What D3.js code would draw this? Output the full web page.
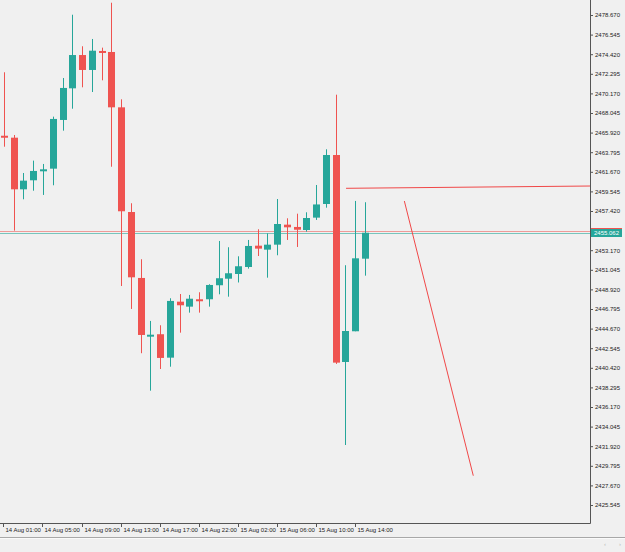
<!DOCTYPE html>
<html><head><meta charset="utf-8">
<script src="https://cdn.jsdelivr.net/npm/d3@7"></script>
<style>html,body{margin:0;padding:0;background:#f0f0f0;overflow:hidden}</style>
</head><body><div id="chart"></div>
<script>
// ---- data ----
const opens  = [2465.58,2465.37,2459.77,2460.75,2461.73,2462.01,2467.29,2470.72,2474.33,2472.71,2474.77,2474.66,2468.66,2457.31,2450.16,2443.98,2444.06,2441.52,2447.59,2447.05,2447.85,2447.85,2449.37,2450.08,2450.59,2451.35,2453.66,2453.23,2453.77,2455.94,2455.69,2455.36,2456.70,2458.18,2463.49,2441.05,2444.38,2452.25];
const highs  = [2472.46,2465.66,2461.54,2462.88,2462.52,2467.65,2471.84,2478.70,2475.28,2476.07,2475.13,2480.00,2469.53,2458.26,2452.19,2445.50,2445.03,2447.96,2448.42,2448.32,2448.61,2449.48,2454.17,2453.49,2452.51,2454.28,2455.44,2455.00,2458.72,2456.63,2457.13,2457.28,2460.24,2464.11,2470.03,2451.54,2458.51,2458.37];
const lows   = [2464.39,2455.29,2458.69,2459.62,2459.16,2460.21,2466.13,2468.51,2470.83,2470.32,2471.59,2462.22,2449.29,2446.80,2442.00,2437.94,2440.29,2440.54,2444.23,2446.40,2446.40,2447.05,2448.39,2448.13,2449.67,2451.17,2452.54,2450.19,2452.62,2454.28,2453.52,2455.18,2456.45,2457.78,2440.84,2432.05,2444.38,2450.41];
const closes = [2465.37,2459.77,2460.71,2461.76,2461.94,2467.40,2470.76,2474.33,2472.71,2474.80,2474.58,2468.66,2457.39,2450.23,2443.98,2444.01,2441.49,2447.67,2447.20,2447.91,2447.74,2449.40,2450.13,2450.67,2451.43,2453.63,2453.34,2453.77,2456.01,2455.65,2455.39,2456.66,2458.13,2463.49,2440.98,2444.41,2452.29,2455.062];
const timeTickIndex  = [0,4,8,12,16,20,24,28,32,36];
const timeTickLabels = ["14 Aug 01:00","14 Aug 05:00","14 Aug 09:00","14 Aug 13:00","14 Aug 17:00","14 Aug 22:00","15 Aug 02:00","15 Aug 06:00","15 Aug 10:00","15 Aug 14:00"];
// 2455.295 is hidden behind the current-price label in the reference
const priceTicks = [2425.545,2427.670,2429.795,2431.920,2434.045,2436.170,2438.295,2440.420,2442.545,2444.670,2446.795,2448.920,2451.045,2453.170,2457.420,2459.545,2461.670,2463.795,2465.920,2468.045,2470.170,2472.295,2474.420,2476.545,2478.670];
const bidPrice = 2455.062;
const askPrice = 2455.25;
const hLineIdx = [35.08, 60.3], hLinePrice = [2459.88, 2460.13];
const dLineIdx = [41.06, 48.13], dLinePrice = [2458.50, 2428.72];

// ---- layout ----
const W = 625, H = 552, plotR = 590, plotB = 523;
const up = "#26a69a", down = "#ef5350";
const svg = d3.select("#chart").append("svg").attr("width", W).attr("height", H)
  .style("font-family", "'Liberation Sans', Arial, sans-serif");
svg.append("rect").attr("width", W).attr("height", H).attr("fill", "#f0f0f0");

const x = d3.scaleLinear().domain([-0.41, 60.1]).range([0, plotR]);
const y = d3.scaleLinear().domain([2425.545, 2478.670]).range([505, 15]);

const plot = svg.append("g");
plot.append("clipPath").attr("id","clip").append("rect").attr("width", plotR).attr("height", plotB);
const pg = plot.append("g").attr("clip-path","url(#clip)");

// bid / ask lines
pg.append("line").attr("x1",0).attr("x2",plotR).attr("y1",Math.round(y(askPrice))+0.5).attr("y2",Math.round(y(askPrice))+0.5)
  .attr("stroke", down).attr("stroke-opacity",0.55);
pg.append("line").attr("x1",0).attr("x2",plotR).attr("y1",Math.round(y(bidPrice))+0.5).attr("y2",Math.round(y(bidPrice))+0.5)
  .attr("stroke", up).attr("stroke-opacity",0.6);

// candles
const data = opens.map((o,i)=>({i, o, h:highs[i], l:lows[i], c:closes[i]}));
const cg = pg.selectAll("g.c").data(data).enter().append("g");
cg.append("line")
  .attr("x1", d=>Math.round(x(d.i))+0.5).attr("x2", d=>Math.round(x(d.i))+0.5)
  .attr("y1", d=>y(d.h)).attr("y2", d=>y(d.l))
  .attr("stroke", d=>d.c>=d.o?up:down).attr("stroke-width",1);
cg.append("rect")
  .attr("x", d=>Math.round(x(d.i))-3)
  .attr("width", 7)
  .attr("y", d=>y(Math.max(d.o,d.c)))
  .attr("height", d=>Math.max(2, Math.abs(y(d.o)-y(d.c))))
  .attr("fill", d=>d.c>=d.o?up:down);

// trend lines
const tl = d3.line().x(d=>x(d[0])).y(d=>y(d[1]));
pg.append("path").attr("d", tl(hLineIdx.map((v,k)=>[v,hLinePrice[k]]))).attr("stroke","#f04848").attr("fill","none").attr("stroke-width",1);
pg.append("path").attr("d", tl(dLineIdx.map((v,k)=>[v,dLinePrice[k]]))).attr("stroke","#f04848").attr("fill","none").attr("stroke-width",1);

// frame
svg.append("line").attr("x1",plotR+0.5).attr("x2",plotR+0.5).attr("y1",0).attr("y2",plotB+0.5).attr("stroke","#555");
svg.append("line").attr("x1",0).attr("x2",plotR+0.5).attr("y1",plotB+0.5).attr("y2",plotB+0.5).attr("stroke","#555");

// price axis
const yAxis = d3.axisRight(y).tickValues(priceTicks).tickSize(3).tickPadding(2).tickFormat(d3.format(".3f"));
const ya = svg.append("g").attr("transform", `translate(${plotR},0)`).call(yAxis);
ya.select(".domain").remove();
ya.selectAll("line").attr("stroke","#555");
ya.selectAll("text").attr("font-size", 6).attr("fill","#222").attr("font-family","'Liberation Sans', Arial, sans-serif");

// time axis
const xa = svg.append("g").attr("transform", `translate(0,${plotB})`);
timeTickIndex.forEach((ti,k)=>{
  const px = Math.round(x(ti) - 0.5) + 0.5;
  xa.append("line").attr("x1",px).attr("x2",px).attr("y1",0).attr("y2",4).attr("stroke","#555");
  xa.append("text").attr("x", px+2).attr("y", 9).attr("font-size", 6).attr("fill","#222").text(timeTickLabels[k]);
});

// current price label
const by = y(bidPrice);
svg.append("rect").attr("x", plotR+1).attr("y", Math.round(by)-5).attr("width", 31).attr("height", 1.5).attr("fill", down);
svg.append("rect").attr("x", plotR+1).attr("y", Math.round(by)-4).attr("width", 31).attr("height", 8).attr("fill", up);
svg.append("text").attr("x", plotR+4).attr("y", Math.round(by)+2.2).attr("font-size",6).attr("fill","#fff").text(d3.format(".3f")(bidPrice));

// bottom separator & scroll arrows
svg.append("line").attr("x1",0).attr("x2",W).attr("y1",537.5).attr("y2",537.5).attr("stroke","#a8a8a8");
svg.append("line").attr("x1",0).attr("x2",W).attr("y1",538.5).attr("y2",538.5).attr("stroke","#fafafa");
svg.append("text").attr("x",604).attr("y",546).attr("font-size",6).attr("fill","#b8b8b8").text("‹");
svg.append("text").attr("x",619).attr("y",546).attr("font-size",6).attr("fill","#b8b8b8").text("›");
</script></body></html>
